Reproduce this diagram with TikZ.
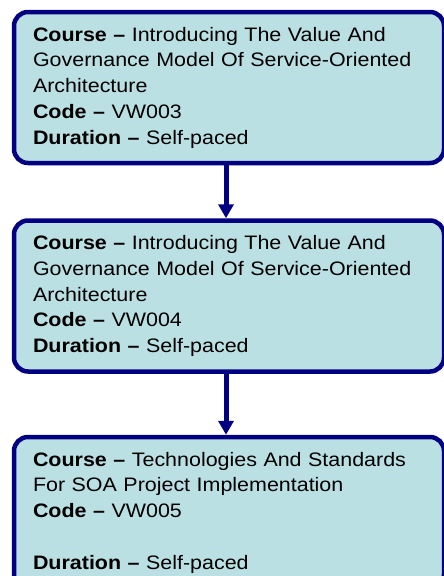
\documentclass[tikz,border=0pt]{standalone}
\usepackage{fontspec}
\setmainfont{Liberation Sans}[FakeStretch=1.1]
\usepackage{xcolor}
\usepackage{tikz}
\usetikzlibrary{arrows.meta,positioning}

\definecolor{boxfill}{HTML}{BBE0E3}
\definecolor{boxline}{HTML}{000080}

\begin{document}
\begin{tikzpicture}[
	x=1pt, y=1pt,
	course/.style={rectangle, draw=boxline, fill=boxfill, line width=4.5pt, rounded corners=14pt,
		minimum width=430pt, minimum height=151pt, text width=392pt, inner sep=0pt,
		align=left, font=\fontsize{19.5}{25.75}\selectfont},
	link/.style={draw=boxline, line width=5pt, -{Triangle[width=15pt,length=14pt]}}
	]
	\useasboundingbox (0,0) rectangle (444,-576);
	\node[course] (vw003) at (229,-87.5) {\textbf{Course –} Introducing The Value And Governance Model Of Service-Oriented Architecture\\
		\textbf{Code –} VW003\\
		\textbf{Duration –} Self-paced};
	\node[course, below=53pt of vw003] (vw004) {\textbf{Course –} Introducing The Value And Governance Model Of Service-Oriented Architecture\\
		\textbf{Code –} VW004\\
		\textbf{Duration –} Self-paced};
	\node[course, below=61pt of vw004] (vw005) {\textbf{Course –} Technologies And Standards For SOA Project Implementation\\
		\textbf{Code –} VW005\\
		\mbox{}\\
		\textbf{Duration –} Self-paced};
	\draw[link] ([xshift=-3pt]vw003.south) -- ([xshift=-3pt]vw004.north);
	\draw[link] ([xshift=-3pt]vw004.south) -- ([xshift=-3pt]vw005.north);
\end{tikzpicture}
\end{document}
